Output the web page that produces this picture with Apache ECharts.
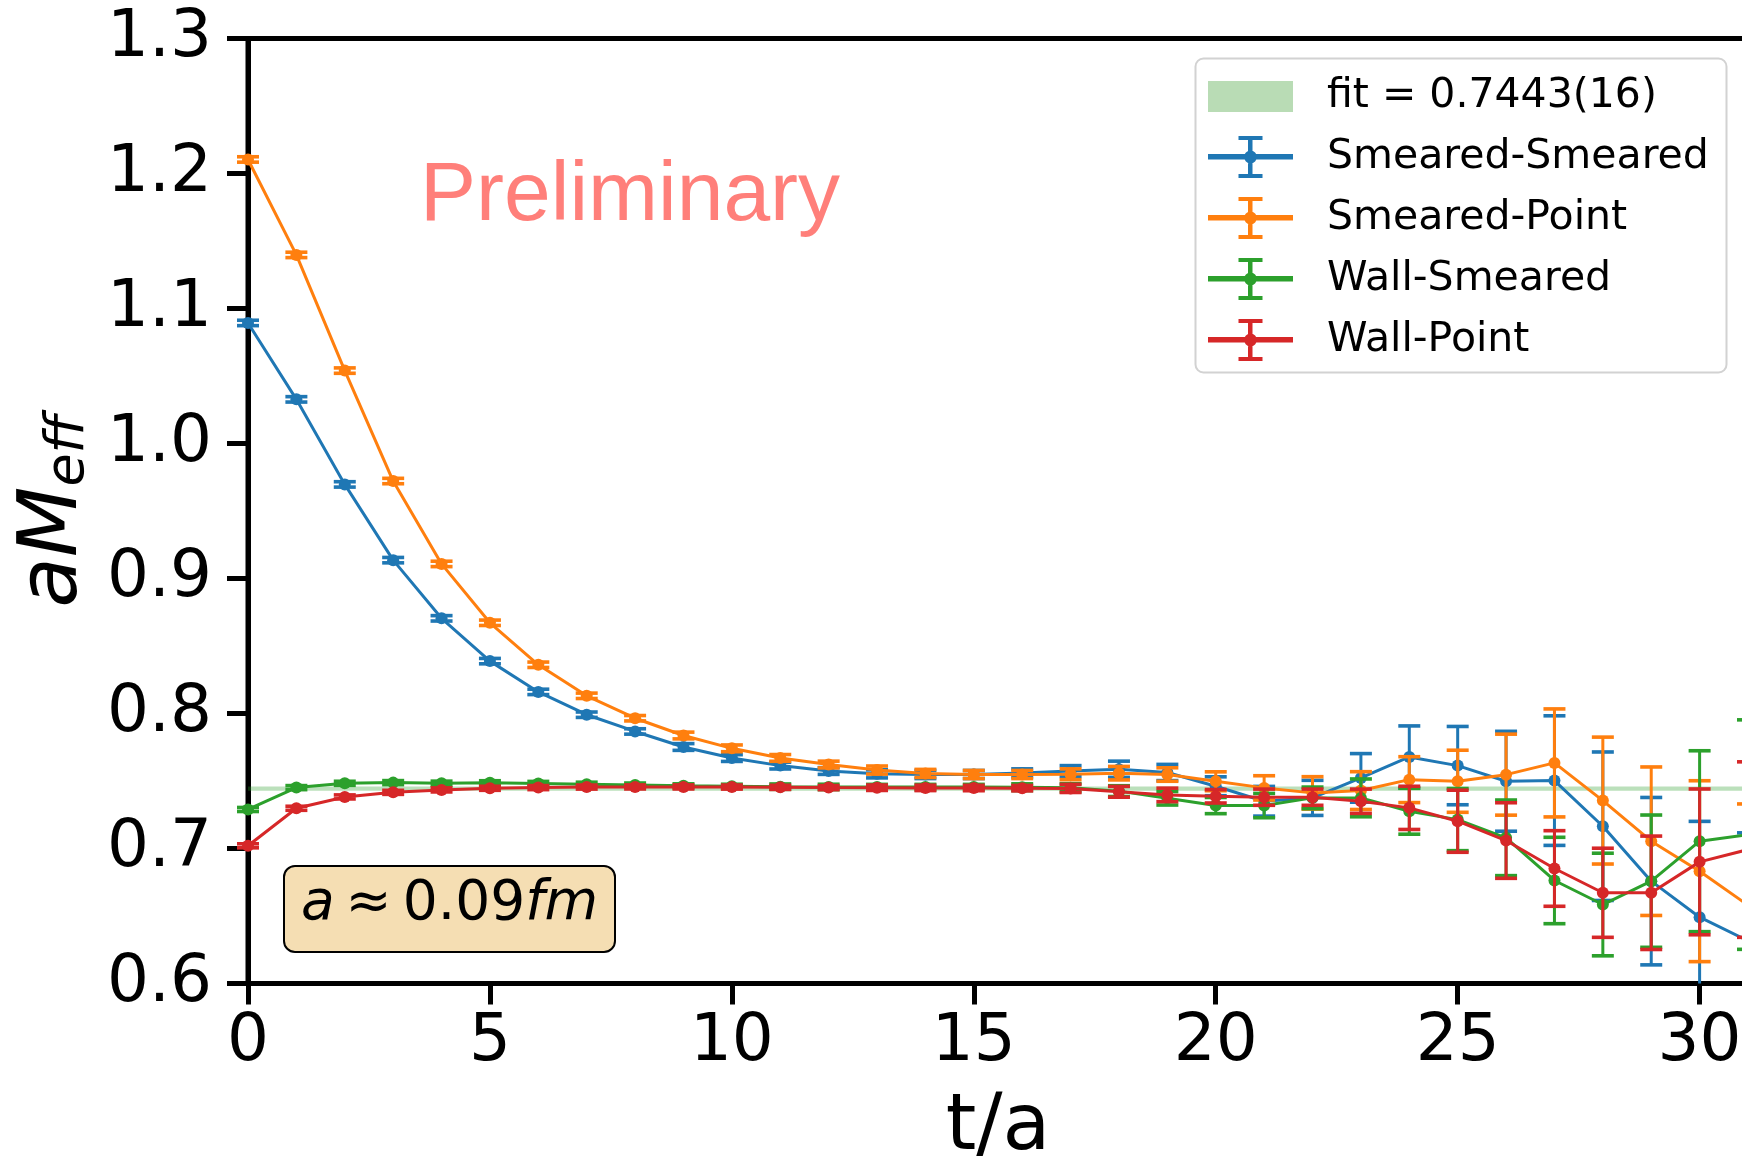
<!DOCTYPE html>
<html lang="en">
<head>
    <meta charset="UTF-8">
    <script type="text/javascript" src="https://cdn.jsdelivr.net/npm/echarts@6/dist/echarts.min.js"></script>
    <style>
        html, body { margin: 0; padding: 0; background: #ffffff; }
        .meff { width: 1742px; height: 1160px; }
    </style>
</head>

<body>
    <div class="meff" id="meff"></div>
</body>

<script>
    // time slices t/a
    var tSlices = [0, 1, 2, 3, 4, 5, 6, 7, 8, 9, 10, 11, 12, 13, 14, 15,
                   16, 17, 18, 19, 20, 21, 22, 23, 24, 25, 26, 27, 28, 29, 30, 31];

    // Smeared-Smeared
    var ssVal = [1.0893, 1.0327, 0.9697, 0.9136, 0.8705, 0.8388, 0.8160, 0.7991, 0.7867, 0.7752, 0.7670,
                 0.7614, 0.7574, 0.7553, 0.7548, 0.7548, 0.7560, 0.7574, 0.7587, 0.7563, 0.7461, 0.7350,
                 0.7375, 0.7523, 0.7678, 0.7614, 0.7498, 0.7503, 0.7165, 0.6758, 0.6491, 0.6316];
    var ssErr = [0.002, 0.002, 0.002, 0.002, 0.002, 0.002, 0.002, 0.002, 0.002, 0.0025, 0.0025,
                 0.0025, 0.0025, 0.003, 0.003, 0.003, 0.003, 0.004, 0.006, 0.006, 0.007, 0.011,
                 0.013, 0.018, 0.023, 0.029, 0.037, 0.048, 0.055, 0.062, 0.071, 0.080];

    // Smeared-Point
    var spVal = [1.2104, 1.1397, 1.0540, 0.9722, 0.9108, 0.8672, 0.8361, 0.8131, 0.7965, 0.7837, 0.7742,
                 0.7671, 0.7622, 0.7581, 0.7556, 0.7548, 0.7548, 0.7550, 0.7558, 0.7548, 0.7498, 0.7449,
                 0.7412, 0.7429, 0.7510, 0.7498, 0.7547, 0.7634, 0.7355, 0.7054, 0.6832, 0.6580];
    var spErr = [0.002, 0.002, 0.002, 0.002, 0.002, 0.002, 0.002, 0.002, 0.002, 0.0025, 0.0025,
                 0.0025, 0.0025, 0.003, 0.003, 0.003, 0.003, 0.004, 0.005, 0.005, 0.007, 0.009,
                 0.012, 0.014, 0.017, 0.023, 0.030, 0.040, 0.047, 0.055, 0.067, 0.075];

    // Wall-Smeared
    var wsVal = [0.7289, 0.7451, 0.7483, 0.7488, 0.7484, 0.7487, 0.7482, 0.7476, 0.7470, 0.7464, 0.7461,
                 0.7458, 0.7456, 0.7455, 0.7455, 0.7455, 0.7454, 0.7450, 0.7425, 0.7372, 0.7318, 0.7318,
                 0.7375, 0.7375, 0.7276, 0.7214, 0.7079, 0.6763, 0.6585, 0.6758, 0.7054, 0.7103];
    var wsErr = [0.0015, 0.0015, 0.0015, 0.0015, 0.0015, 0.0015, 0.0015, 0.0015, 0.0015, 0.0015, 0.0015,
                 0.002, 0.002, 0.002, 0.002, 0.002, 0.0025, 0.003, 0.004, 0.005, 0.006, 0.009,
                 0.008, 0.014, 0.017, 0.023, 0.028, 0.032, 0.038, 0.049, 0.067, 0.085];

    // Wall-Point
    var wpVal = [0.7020, 0.7298, 0.7382, 0.7416, 0.7434, 0.7446, 0.7451, 0.7455, 0.7456, 0.7456, 0.7455,
                 0.7453, 0.7451, 0.7450, 0.7449, 0.7448, 0.7447, 0.7445, 0.7420, 0.7397, 0.7387, 0.7380,
                 0.7380, 0.7350, 0.7301, 0.7202, 0.7059, 0.6852, 0.6672, 0.6672, 0.6901, 0.6992];
    var wpErr = [0.0015, 0.0015, 0.0015, 0.0015, 0.0015, 0.0015, 0.0015, 0.0015, 0.0015, 0.0015, 0.0015,
                 0.0015, 0.0015, 0.002, 0.002, 0.002, 0.002, 0.003, 0.004, 0.005, 0.005, 0.006,
                 0.006, 0.009, 0.016, 0.023, 0.028, 0.028, 0.033, 0.042, 0.054, 0.065];

    // plateau fit
    var fitValue = 0.7443;
    var fitErr = 0.0016;
    var fitName = 'fit = 0.7443(16)';

    var seriesNames = ['Smeared-Smeared', 'Smeared-Point', 'Wall-Smeared', 'Wall-Point'];
    var seriesColors = ['#1f77b4', '#ff7f0e', '#2ca02c', '#d62728'];
    var seriesVals = [ssVal, spVal, wsVal, wpVal];
    var seriesErrs = [ssErr, spErr, wsErr, wpErr];

    var xTicks = [0, 5, 10, 15, 20, 25, 30];
    var yTicks = [0.6, 0.7, 0.8, 0.9, 1.0, 1.1, 1.2, 1.3];

    var FONT = 'DejaVu Sans';
    var yMin = yTicks[0], yMax = yTicks[yTicks.length - 1];

    // errorbar icon for the legend (line + bar + caps + dot)
    var errIcon = 'path://M0,18 H85 V23.5 H0 Z M40,0 H44.5 V42 H40 Z M30.5,0 H54.5 V4 H30.5 Z ' +
                  'M30.5,38 H54.5 V42 H30.5 Z M36,21 A6.5,6.5 0 1,1 49,21 A6.5,6.5 0 1,1 36,21 Z';

    // vertical error bars with caps, drawn through the axis scales
    function renderErr(params, api) {
        var t = api.value(0), v = api.value(1), e = api.value(2);
        var lo = Math.max(v - e, yMin), hi = Math.min(v + e, yMax);
        var pLo = api.coord([t, lo]);
        var pHi = api.coord([t, hi]);
        var half = 11;
        var style = { stroke: api.visual('color'), lineWidth: 3 };
        var capStyle = { stroke: api.visual('color'), lineWidth: 3.6 };
        var children = [{
            type: 'line',
            shape: { x1: pLo[0], y1: pLo[1], x2: pHi[0], y2: pHi[1] },
            style: style
        }];
        if (v - e >= yMin) {
            children.push({ type: 'line', shape: { x1: pLo[0] - half, y1: pLo[1], x2: pLo[0] + half, y2: pLo[1] }, style: capStyle });
        }
        if (v + e <= yMax) {
            children.push({ type: 'line', shape: { x1: pHi[0] - half, y1: pHi[1], x2: pHi[0] + half, y2: pHi[1] }, style: capStyle });
        }
        return { type: 'group', children: children };
    }

    var series = [{
        name: fitName,
        type: 'line',
        data: [[tSlices[0], fitValue], [tSlices[tSlices.length - 1], fitValue]],
        symbol: 'none',
        lineStyle: { width: 0 },
        itemStyle: { color: '#b9dcb5' },
        silent: true,
        markArea: {
            silent: true,
            itemStyle: { color: 'rgba(44,160,44,0.32)' },
            data: [[{ yAxis: fitValue - fitErr }, { yAxis: fitValue + fitErr }]]
        }
    }];

    for (var i = 0; i < seriesNames.length; i++) {
        var lineData = [], errData = [];
        for (var k = 0; k < tSlices.length; k++) {
            lineData.push([tSlices[k], seriesVals[i][k]]);
            errData.push([tSlices[k], seriesVals[i][k], seriesErrs[i][k]]);
        }
        series.push({
            name: seriesNames[i],
            type: 'line',
            data: lineData,
            symbol: 'circle',
            symbolSize: 12,
            showSymbol: true,
            lineStyle: { width: 3, color: seriesColors[i] },
            itemStyle: { color: seriesColors[i], borderWidth: 0 },
            emphasis: { disabled: true },
            z: 3 + i
        });
        series.push({
            name: seriesNames[i],
            type: 'custom',
            data: errData,
            encode: { x: 0, y: 1 },
            renderItem: renderErr,
            itemStyle: { color: seriesColors[i] },
            z: 3 + i
        });
    }

    var option = {
        backgroundColor: '#ffffff',
        animation: false,
        textStyle: { fontFamily: FONT },
        grid: {
            left: 248,
            top: 38.5,
            width: 1500,
            height: 945,
            containLabel: false,
            outerBoundsMode: 'none',
            show: true,
            borderColor: '#000',
            borderWidth: 5,
            backgroundColor: 'transparent'
        },
        xAxis: {
            type: 'value',
            min: 0,
            max: 31,
            interval: 5,
            name: 't/a',
            nameLocation: 'middle',
            nameGap: 106,
            nameTextStyle: { fontSize: 78, fontFamily: FONT, color: '#000', lineHeight: 78 },
            axisLine: { onZero: false, lineStyle: { color: '#000', width: 5 } },
            axisTick: { length: 21, lineStyle: { color: '#000', width: 5 } },
            axisLabel: {
                fontSize: 66, fontFamily: FONT, color: '#000', margin: 26, lineHeight: 66,
                showMaxLabel: false,
                formatter: function (v) { return xTicks.indexOf(v) >= 0 ? String(v) : ''; }
            },
            splitLine: { show: false }
        },
        yAxis: {
            type: 'value',
            min: 0.6,
            max: 1.3,
            interval: 0.1,
            name: '{m|aM}{s|eff}',
            nameLocation: 'middle',
            nameRotate: 90,
            nameGap: 149,
            nameTextStyle: {
                color: '#000',
                rich: {
                    m: { fontSize: 82, fontStyle: 'italic', fontFamily: FONT, color: '#000', lineHeight: 82 },
                    s: { fontSize: 54, fontStyle: 'italic', fontFamily: FONT, color: '#000', lineHeight: 54, padding: [28, 0, 0, 0] }
                }
            },
            axisLine: { onZero: false, lineStyle: { color: '#000', width: 5 } },
            axisTick: { length: 21, lineStyle: { color: '#000', width: 5 } },
            axisLabel: {
                fontSize: 66, fontFamily: FONT, color: '#000', margin: 36,
                formatter: function (v) { return v.toFixed(1); }
            },
            splitLine: { show: false }
        },
        legend: [{
            data: [{ name: fitName, icon: 'rect' }],
            left: 1208,
            top: 76,
            padding: 0,
            itemWidth: 85,
            itemHeight: 31,
            selectedMode: false,
            itemStyle: { borderWidth: 0 },
            textStyle: { fontSize: 41, fontFamily: FONT, color: '#000', lineHeight: 31, padding: [0, 0, 0, 29] }
        }, {
            data: seriesNames.map(function (n) { return { name: n, icon: errIcon }; }),
            orient: 'vertical',
            left: 1208,
            top: 136,
            padding: 0,
            itemWidth: 85,
            itemHeight: 42,
            itemGap: 19,
            itemStyle: { borderWidth: 0 },
            textStyle: { fontSize: 41, fontFamily: FONT, color: '#000', lineHeight: 42, padding: [0, 0, 0, 29] }
        }],
        graphic: [{
            // legend frame
            type: 'rect',
            z: 3,
            shape: { x: 1195.5, y: 58.5, width: 531, height: 314, r: 8 },
            style: { fill: 'rgba(255,255,255,0.8)', stroke: '#d2d2d2', lineWidth: 2 }
        }, {
            type: 'text',
            z: 10,
            style: {
                text: 'Preliminary',
                x: 420,
                y: 197,
                align: 'left',
                verticalAlign: 'middle',
                fontSize: 84,
                fontFamily: 'Liberation Sans',
                fill: '#ff7f7a'
            }
        }, {
            type: 'rect',
            z: 10,
            shape: { x: 284, y: 866, width: 331, height: 86, r: 11 },
            style: { fill: '#f5deb3', stroke: '#000', lineWidth: 2 }
        }, {
            type: 'text',
            z: 11,
            style: {
                text: '{i|a}\u2009≈\u20090.09{i|fm}',
                x: 449.5,
                y: 905,
                align: 'center',
                verticalAlign: 'middle',
                fontSize: 55,
                fontFamily: FONT,
                fill: '#000',
                rich: {
                    i: { fontSize: 55, fontStyle: 'italic', fontFamily: FONT, fill: '#000' }
                }
            }
        }],
        series: series
    };

    var chart = echarts.init(document.getElementById('meff'));
    chart.setOption(option);
</script>
</html>
